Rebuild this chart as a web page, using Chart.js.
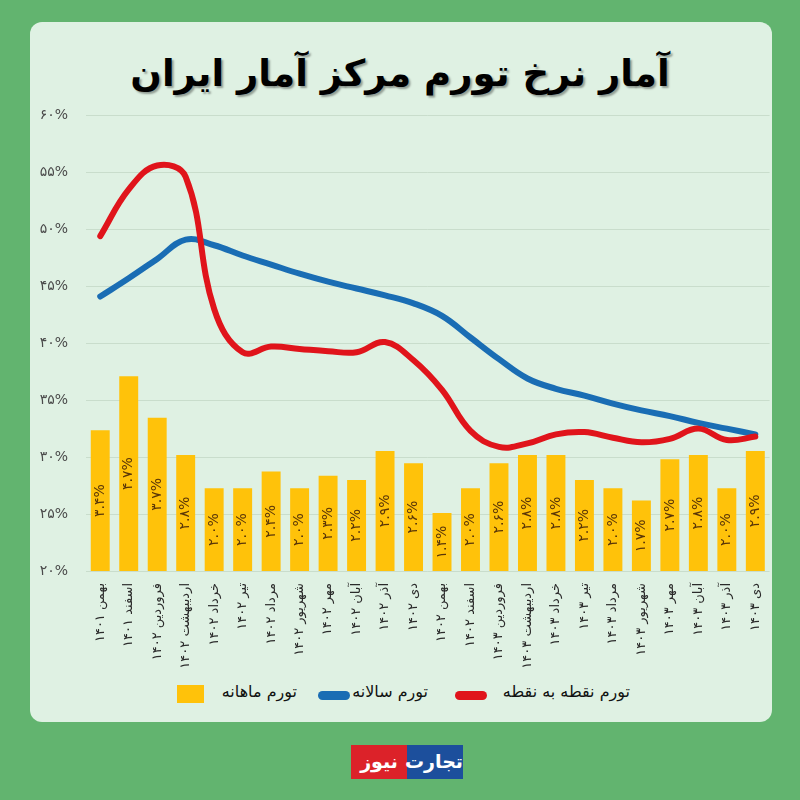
<!DOCTYPE html>
<html>
<head>
<meta charset="utf-8">
<script src="https://cdn.jsdelivr.net/npm/chart.js@4.4.1/dist/chart.umd.min.js"></script>
<style>
  body { margin: 0; width: 800px; height: 800px; background: #62b46f; position: relative; overflow: hidden; font-family: "DejaVu Sans", sans-serif; }
  .card { position: absolute; left: 30px; top: 22px; width: 742px; height: 700px; background: #dff1e3; border-radius: 12px; }
  .title { position: absolute; left: 0; width: 800px; top: 52px; text-align: center; font-size: 37px; font-weight: bold; color: #000; text-shadow: 2px 2px 2px rgba(0,0,0,0.35); direction: rtl; }
  #wrap { position: absolute; left: 30px; top: 89px; }
  .lg-text { position: absolute; top: 682px; font-size: 16px; color: #111; direction: rtl; white-space: nowrap; }
  .pill { position: absolute; height: 9px; border-radius: 5px; top: 691px; }
  .logo { position: absolute; top: 745px; height: 34px; width: 56px; color: #fff; font-weight: bold; font-size: 19px; text-align: center; line-height: 32px; direction: rtl; }
</style>
</head>
<body>
<div class="card"></div>
<div class="title">آمار نرخ تورم مرکز آمار ایران</div>
<div id="wrap"><canvas id="myChart" width="745" height="586"></canvas></div>

<div class="pill" style="left:455px;width:32px;background:#e0141b;"></div>
<span class="lg-text" style="right:170px;">تورم نقطه به نقطه</span>
<div class="pill" style="left:318px;width:32px;background:#1a6db4;"></div>
<span class="lg-text" style="right:372px;">تورم سالانه</span>
<div class="pill" style="left:177px;width:27px;height:18px;top:685px;border-radius:0;background:#ffc20a;"></div>
<span class="lg-text" style="right:503px;">تورم ماهانه</span>

<div class="logo" style="left:351px;background:#dc2229;">نیوز</div>
<div class="logo" style="left:407px;background:#1c4f9c;">تجارت</div>

<script>
var months = ["بهمن", "اسفند", "فروردین", "اردیبهشت", "خرداد", "تیر", "مرداد", "شهریور", "مهر", "آبان", "آذر", "دی",
              "بهمن", "اسفند", "فروردین", "اردیبهشت", "خرداد", "تیر", "مرداد", "شهریور", "مهر", "آبان", "آذر", "دی"];
var years = [1401, 1401, 1402, 1402, 1402, 1402, 1402, 1402, 1402, 1402, 1402, 1402,
             1402, 1402, 1403, 1403, 1403, 1403, 1403, 1403, 1403, 1403, 1403, 1403];
// تورم ماهانه
var monthly = [3.4, 4.7, 3.7, 2.8, 2.0, 2.0, 2.4, 2.0, 2.3, 2.2, 2.9, 2.6,
               1.4, 2.0, 2.6, 2.8, 2.8, 2.2, 2.0, 1.7, 2.7, 2.8, 2.0, 2.9];
// تورم سالانه
var annual = [44.1, 45.7, 47.4, 49.1, 48.6, 47.7, 46.9, 46.1, 45.4, 44.8, 44.2, 43.5,
              42.4, 40.5, 38.6, 36.9, 36.0, 35.4, 34.7, 34.1, 33.6, 33.0, 32.5, 32.0];
// تورم نقطه به نقطه
var pointToPoint = [49.4, 53.5, 55.6, 54.6, 43.0, 39.2, 39.7, 39.5, 39.3, 39.2, 40.1, 38.5,
                    35.9, 32.3, 30.9, 31.2, 32.0, 32.2, 31.7, 31.3, 31.6, 32.5, 31.5, 31.8];
var yTicks = [20, 25, 30, 35, 40, 45, 50, 55, 60];

function fa(s) {
    return String(s).replace(/[0-9]/g, function (d) { return "۰۱۲۳۴۵۶۷۸۹"[d]; });
}

var labels = [];
for (var i = 0; i < months.length; i++) {
    labels.push(months[i] + " " + fa(years[i]));
}

// برچسب داخل ستون ها
var barLabels = {
    id: "barLabels",
    afterDatasetDraw: function (chart, args) {
        if (args.index !== 2) return;
        var ctx = chart.ctx;
        args.meta.data.forEach(function (bar, i) {
            var p = bar.getProps(["x", "y", "base"], true);
            ctx.save();
            ctx.translate(p.x, (p.y + p.base) / 2);
            ctx.rotate(-Math.PI / 2);
            ctx.font = "14px 'DejaVu Sans'";
            ctx.fillStyle = "#5a3608";
            ctx.textAlign = "center";
            ctx.textBaseline = "middle";
            ctx.fillText(fa(monthly[i].toFixed(1)) + "%", 0, 0);
            ctx.restore();
        });
    }
};

var ctx = document.getElementById("myChart").getContext("2d");
var myChart = new Chart(ctx, {
    type: "bar",
    data: {
        labels: labels,
        datasets: [{
            type: "line",
            label: "تورم نقطه به نقطه",
            data: pointToPoint,
            borderColor: "#e0141b",
            borderWidth: 6,
            borderCapStyle: "round",
            pointRadius: 0,
            tension: 0.4,
            yAxisID: "y",
            order: 1
        }, {
            type: "line",
            label: "تورم سالانه",
            data: annual,
            borderColor: "#1a6db4",
            borderWidth: 6,
            borderCapStyle: "round",
            pointRadius: 0,
            tension: 0.4,
            yAxisID: "y",
            order: 2
        }, {
            label: "تورم ماهانه",
            data: monthly,
            backgroundColor: "#ffc20a",
            categoryPercentage: 0.7,
            barPercentage: 0.95,
            yAxisID: "y2",
            order: 3
        }]
    },
    options: {
        responsive: false,
        animation: false,
        layout: { padding: { top: 11, right: 4, left: 0, bottom: 0 } },
        plugins: { legend: { display: false }, tooltip: { enabled: false } },
        scales: {
            x: {
                grid: { display: false },
                border: { display: false },
                ticks: {
                    color: "#2b2b2b",
                    font: { family: "DejaVu Sans", size: 13 },
                    maxRotation: 90, minRotation: 90,
                    padding: 4,
                    autoSkip: false
                },
                afterFit: function (scale) { scale.height = 104; }
            },
            y: {
                min: 20, max: 60,
                afterBuildTicks: function (scale) {
                    scale.ticks = yTicks.map(function (v) { return { value: v }; });
                },
                grid: { color: "#c9ddcc", drawTicks: false },
                border: { display: false },
                ticks: {
                    color: "#4a4a4a",
                    font: { family: "DejaVu Sans", size: 14 },
                    padding: 18,
                    callback: function (v) { return fa(v) + "%"; }
                },
                afterFit: function (scale) { scale.width = 56; }
            },
            y2: {
                display: false,
                min: 0, max: 11
            }
        }
    },
    plugins: [barLabels]
});
</script>
</body>
</html>
